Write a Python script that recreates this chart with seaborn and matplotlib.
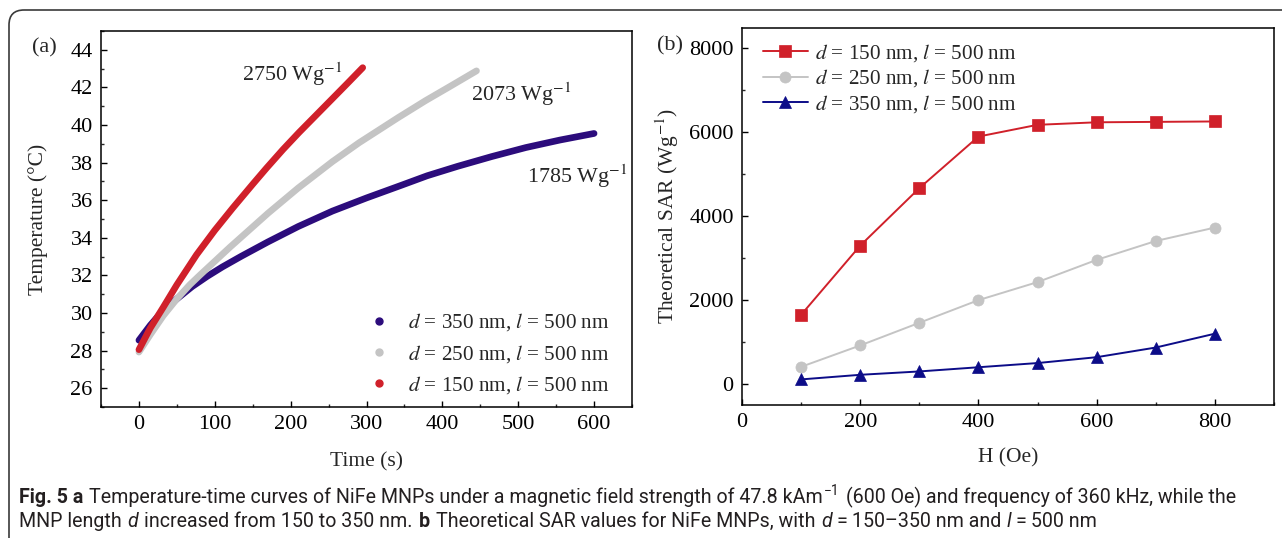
import numpy as np
import pandas as pd
import matplotlib
matplotlib.use('Agg')
import matplotlib.pyplot as plt
import seaborn as sns
from matplotlib.patches import FancyBboxPatch
from matplotlib.lines import Line2D
from matplotlib.ticker import MultipleLocator
from matplotlib.transforms import IdentityTransform

# --- data ---
# (a) temperature-time curves
time_150 = [0, 15, 32, 50, 76, 100, 124, 150, 168, 190, 211, 233, 255, 275, 295]
temp_150 = [28.05, 29.2, 30.3, 31.5, 33.1, 34.4, 35.6, 36.85, 37.7, 38.7, 39.6, 40.5, 41.4, 42.22, 43.05]
time_250 = [0, 15, 32, 50, 67, 80, 100, 120, 145, 170, 210, 255, 290, 342, 378, 410, 445]
temp_250 = [27.92, 28.85, 29.85, 30.75, 31.5, 32.0, 32.75, 33.5, 34.4, 35.3, 36.65, 38.05, 39.05,
            40.4, 41.3, 42.05, 42.88]
time_350 = [0, 15, 30, 50, 70, 90, 110, 135, 170, 210, 255, 300, 345, 380, 420, 465, 510, 555, 600]
temp_350 = [28.55, 29.35, 30.05, 30.75, 31.4, 31.95, 32.45, 33.02, 33.78, 34.6, 35.42, 36.12, 36.78,
            37.3, 37.8, 38.32, 38.8, 39.2, 39.55]
sar_labels = ['2750 Wg$^{-1}$', '2073 Wg$^{-1}$', '1785 Wg$^{-1}$']

# (b) theoretical SAR vs field
field_H = [100, 200, 300, 400, 500, 600, 700, 800]
sar_150 = [1650, 3300, 4670, 5900, 6180, 6240, 6250, 6260]
sar_250 = [410, 920, 1460, 2000, 2430, 2960, 3410, 3730]
sar_350 = [110, 220, 300, 400, 500, 640, 870, 1200]

series_names = ['150', '250', '350']
legend_labels = {n: '$d$ = %s nm, $l$ = 500 nm' % n for n in series_names}

caption_line1 = [('Fig. 5 a', 'b'), (' ', ''),
                 ('Temperature-time curves of NiFe MNPs under a magnetic field strength of 47.8 kAm', ''),
                 ('\u22121', 'sup'), (' ', ''),
                 ('(600 Oe) and frequency of 360 kHz, while the', '')]
caption_line2 = [('MNP length', ''), (' ', ''), ('d', 'i'), (' ', ''),
                 ('increased from 150 to 350 nm.', ''), (' ', ''), ('b', 'b'), (' ', ''),
                 ('Theoretical SAR values for NiFe MNPs, with', ''), (' ', ''), ('d', 'i'),
                 ('\u2009=\u2009150\u2013350 nm and', ''), (' ', ''), ('l', 'i'),
                 ('\u2009=\u2009500 nm', '')]

# --- style ---
sns.set_theme(style='ticks')
plt.rcParams['font.family'] = ['Liberation Serif', 'DejaVu Serif']
plt.rcParams['mathtext.fontset'] = 'stix'
plt.rcParams['xtick.direction'] = 'in'
plt.rcParams['ytick.direction'] = 'in'
plt.rcParams['axes.linewidth'] = 1.1
plt.rcParams['axes.edgecolor'] = 'black'

W, H = 1282, 538
fig = plt.figure(figsize=(W / 100, H / 100), dpi=100)

c_red = '#d0202a'
c_gray = '#c4c4c4'
c_indigo = '#2c0c7c'
c_navy = '#0c0c88'

# --- panel (a) ---
ax1 = fig.add_axes([101 / W, 1 - 407 / H, 531 / W, 376 / H])
df_a = pd.concat([
    pd.DataFrame({'Time': time_350, 'Temp': temp_350, 'Sample': '350'}),
    pd.DataFrame({'Time': time_250, 'Temp': temp_250, 'Sample': '250'}),
    pd.DataFrame({'Time': time_150, 'Temp': temp_150, 'Sample': '150'}),
])
pal_a = {'150': c_red, '250': c_gray, '350': c_indigo}
sns.lineplot(data=df_a, x='Time', y='Temp', hue='Sample', hue_order=['350', '250', '150'],
             palette=pal_a, linewidth=4.8, solid_capstyle='round', solid_joinstyle='round',
             legend=False, sort=False, ax=ax1)
ax1.set_xlim(-50, 650)
ax1.set_ylim(25, 45)
ax1.xaxis.set_major_locator(MultipleLocator(100))
ax1.xaxis.set_minor_locator(MultipleLocator(50))
ax1.yaxis.set_major_locator(MultipleLocator(2))
ax1.yaxis.set_minor_locator(MultipleLocator(1))
ax1.set_xlabel('Time (s)', fontsize=15.5)
ax1.set_ylabel('Temperature (\u00b0C)', fontsize=15.5)
ax1.xaxis.set_label_coords(0.5, -0.12)
ax1.yaxis.set_label_coords(-0.1, 0.5)

ax1.text(136, 42.34, sar_labels[0], fontsize=15.8, va='baseline')
ax1.text(438, 41.28, sar_labels[1], fontsize=15.8, va='baseline')
ax1.text(512, 36.92, sar_labels[2], fontsize=15.8, va='baseline')

handles_a = [Line2D([], [], marker='o', linestyle='none', color=pal_a[n], markersize=5)
             for n in ['350', '250', '150']]
ax1.legend(handles_a, [legend_labels[n] for n in ['350', '250', '150']],
           loc='upper left', bbox_to_anchor=(0.503, 0.254), frameon=False,
           fontsize=15.2, handlelength=1.0, handletextpad=0.9, labelspacing=0.45,
           borderpad=0, borderaxespad=0)

# --- panel (b) ---
ax2 = fig.add_axes([742 / W, 1 - 405 / H, 532 / W, 377.5 / H])
for n, vals, col, mk in [('150', sar_150, c_red, 's'), ('250', sar_250, c_gray, 'o'),
                         ('350', sar_350, c_navy, '^')]:
    sns.lineplot(x=field_H, y=vals, color=col, marker=mk, markersize=8,
                 markeredgecolor=col, mew=0.5, linewidth=1.4,
                 label=legend_labels[n], ax=ax2)
ax2.set_xlim(0, 900)
ax2.set_ylim(-500, 8500)
ax2.xaxis.set_major_locator(MultipleLocator(200))
ax2.xaxis.set_minor_locator(MultipleLocator(100))
ax2.yaxis.set_major_locator(MultipleLocator(2000))
ax2.yaxis.set_minor_locator(MultipleLocator(1000))
ax2.set_xlabel('H (Oe)', fontsize=15.5)
ax2.set_ylabel('Theoretical SAR (Wg$^{-1}$)', fontsize=15.5)
ax2.xaxis.set_label_coords(0.5, -0.114)
ax2.yaxis.set_label_coords(-0.115, 0.5)
ax2.legend(loc='upper left', bbox_to_anchor=(0.04, 0.962), frameon=False,
           fontsize=15.2, handlelength=2.1, handletextpad=0.35, labelspacing=0.18,
           borderpad=0, borderaxespad=0)

for ax in (ax1, ax2):
    ax.tick_params(which='major', length=4.5, width=1, labelsize=16, pad=6, colors='black')
    ax.tick_params(which='minor', length=2.5, width=1)
    ax.tick_params(top=False, right=False, which='both')
    for s in ax.spines.values():
        s.set_visible(True)
        s.set_color('black')

fig.text(32 / W, 1 - 52 / H, '(a)', fontsize=16, va='baseline')
fig.text(657 / W, 1 - 50 / H, '(b)', fontsize=16, va='baseline')

# --- frame around the figure ---
frame = FancyBboxPatch((9, -60), 1400, H - 10 + 60, boxstyle='round,pad=0,rounding_size=15',
                       transform=IdentityTransform(), fill=False, edgecolor='#3a3a3a',
                       linewidth=1.2, clip_on=False)
fig.add_artist(frame)

# --- caption, laid out piece by piece ---
cap_font = ['Roboto', 'Open Sans', 'DejaVu Sans']
renderer = fig.canvas.get_renderer()


def piece_kw(style, size):
    kw = dict(fontsize=size, family=cap_font, color='#231f20', va='baseline', ha='left')
    if style == 'b':
        kw['fontweight'] = 'bold'
    if style == 'i':
        kw['fontstyle'] = 'italic'
    if style == 'sup':
        kw['fontsize'] = size * 0.7
    return kw


def layout(pieces, x, y, size, keep=True):
    t = fig.text(0, 0, 'n n', **piece_kw('', size))
    w2 = t.get_window_extent(renderer).width
    t.remove()
    t = fig.text(0, 0, 'nn', **piece_kw('', size))
    space = w2 - t.get_window_extent(renderer).width
    t.remove()
    for s, style in pieces:
        if s == ' ':
            x += space
            continue
        yy = (H - y + size * 0.55) / H if style == 'sup' else 1 - y / H
        t = fig.text(x / W, yy, s, **piece_kw(style, size))
        x += t.get_window_extent(renderer).width + 1
        if not keep:
            t.remove()
    return x


size0 = 12
end = layout(caption_line1, 19, 503, size0, keep=False)
cap_size = size0 * (1236 - 19) / (end - 19)
layout(caption_line1, 19, 503, cap_size)
layout(caption_line2, 19, 527, cap_size)

fig.savefig('out.png', dpi=100)
